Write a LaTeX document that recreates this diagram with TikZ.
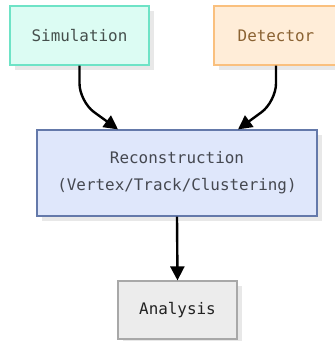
\documentclass[tikz,border=0pt]{standalone}
\usepackage{fontspec}
\setmonofont{DejaVu Sans Mono}
\usetikzlibrary{arrows.meta,shadows}
\definecolor{simfill}{HTML}{DCFCF3}
\definecolor{simdraw}{HTML}{6EE3C6}
\definecolor{simtext}{HTML}{454F4C}
\definecolor{detfill}{HTML}{FFEDD8}
\definecolor{detdraw}{HTML}{FAC07E}
\definecolor{dettext}{HTML}{8A6232}
\definecolor{recfill}{HTML}{DFE7FB}
\definecolor{recdraw}{HTML}{6479AA}
\definecolor{rectext}{HTML}{454850}
\definecolor{anafill}{HTML}{ECECEC}
\definecolor{anadraw}{HTML}{A8A8A8}
\definecolor{anatext}{HTML}{222222}
\tikzset{
  box/.style={draw, line width=1.2pt, inner sep=0pt, align=center,
    font=\ttfamily\fontsize{15.9}{27}\selectfont,
    drop shadow={shadow xshift=5pt, shadow yshift=-5pt, fill=black!9, opacity=1}},
  conn/.style={line width=2.4pt, -{Triangle[length=14pt,width=14pt]}, rounded corners=18pt}
}
\begin{document}
\begin{tikzpicture}[x=1pt,y=-1pt]
\useasboundingbox (0,0) rectangle (335,341);
\node[box, fill=simfill, draw=simdraw, text=simtext, minimum width=139pt, minimum height=59pt] (sim) at (79.5,35.5) {Simulation};
\node[box, fill=detfill, draw=detdraw, text=dettext, minimum width=124pt, minimum height=59pt] (det) at (276,35.5) {Detector};
\node[box, fill=recfill, draw=recdraw, text=rectext, minimum width=280pt, minimum height=86pt] (rec) at (177,173) {Reconstruction\\(Vertex/Track/Clustering)};
\node[box, fill=anafill, draw=anadraw, text=anatext, minimum width=119pt, minimum height=58pt] (ana) at (177.5,310) {Analysis};
\draw[conn] (sim.south) -- ++(0,36) -- ([xshift=-59pt]rec.north);
\draw[conn] (det.south) -- ++(0,36) -- ([xshift=61pt]rec.north);
\draw[conn] (rec.south) -- (ana.north);
\end{tikzpicture}
\end{document}
